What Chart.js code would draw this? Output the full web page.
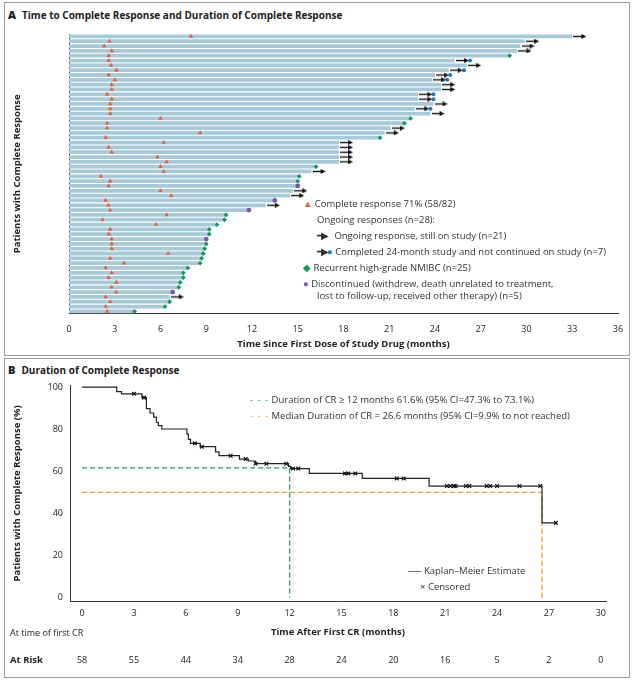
<!DOCTYPE html>
<html>
<head>
<meta charset="utf-8">
<script src="https://cdn.jsdelivr.net/npm/chart.js@4"></script>
<style>
  body { margin: 0; background: #fff; font-family: "Open Sans", sans-serif; color: #222; }
  .panel { position: absolute; left: 4px; width: 624px; border: 1px solid #9a9a9a; }
  .head { position: absolute; left: 8px; font-size: 10px; font-weight: bold; }
  .head b { margin-right: 6px; font-size: 11px; }
  .lg { position: absolute; font-size: 9.5px; color: #333; white-space: nowrap; }
  canvas { position: absolute; }
</style>
</head>
<body>
<div class="panel" style="top:2px;height:352px"></div>
<div class="panel" style="top:358px;height:318px"></div>
<div class="head" style="top:7px"><b>A</b>Time to Complete Response and Duration of Complete Response</div>
<div class="head" style="top:362px"><b>B</b>Duration of Complete Response</div>
<div style="position:absolute;left:4px;top:22px;width:626px;height:332px"><canvas id="chartA"></canvas></div>
<div style="position:absolute;left:4px;top:372px;width:626px;height:304px"><canvas id="chartB"></canvas></div>

<!-- panel A legend -->
<div class="lg" style="left:303px;top:197px"><span style="color:#e0603a">&#9650;</span> Complete response 71% (58/82)</div>
<div class="lg" style="left:317px;top:213px">Ongoing responses (n=28):</div>
<div class="lg" style="left:317px;top:229px"><span style="letter-spacing:-2px">&#9473;&#9654;</span>&nbsp;&nbsp; Ongoing response, still on study (n=21)</div>
<div class="lg" style="left:317px;top:245px"><span style="letter-spacing:-2px">&#9473;&#9654;</span><span style="color:#1f78c8">&#9679;</span> Completed 24-month study and not continued on study (n=7)</div>
<div class="lg" style="left:303px;top:261px"><span style="color:#15975a">&#9670;</span> Recurrent high-grade NMIBC (n=25)</div>
<div class="lg" style="left:303px;top:277px"><span style="color:#7b55b0">&#9679;</span> Discontinued (withdrew, death unrelated to treatment,</div>
<div class="lg" style="left:317px;top:289px">lost to follow-up, received other therapy) (n=5)</div>

<!-- panel B legend -->
<div class="lg" style="left:250px;top:393px"><span style="color:#1e9a6a;letter-spacing:1px">- - -</span> Duration of CR &ge; 12 months 61.6% (95% CI=47.3% to 73.1%)</div>
<div class="lg" style="left:250px;top:409px"><span style="color:#f0a030;letter-spacing:1px">- - -</span> Median Duration of CR = 26.6 months (95% CI=9.9% to not reached)</div>
<div class="lg" style="left:408px;top:564px">&#9472;&#9472; Kaplan&ndash;Meier Estimate</div>
<div class="lg" style="left:420px;top:580px">&times; Censored</div>

<script>
// ---- Panel A data (months), top row first ----
const barEnd = [33.0, 29.9, 29.6, 29.4, 28.9, 25.3, 26.1, 24.9, 24.0, 23.8, 24.4, 24.4, 22.9, 22.9, 23.9,
  22.7, 23.7, 22.4, 22.0, 21.1, 20.7, 20.4, 17.7, 17.7, 17.7, 17.7, 17.7, 16.2, 15.9, 15.1,
  15.0, 15.0, 14.7, 14.5, 13.5, 12.9, 11.8, 10.3, 10.2, 9.7, 9.2, 9.2, 9.0, 9.0, 8.9,
  8.8, 8.7, 8.6, 7.8, 7.5, 7.5, 7.3, 7.2, 6.8, 6.6, 6.6, 6.3, 4.3];
const crTime = [8.0, 2.65, 2.3, 2.8, 2.6, 2.6, 2.75, 3.1, 2.6, 3.0, 2.8, 2.8, 2.5, 2.8, 2.7,
  2.7, 2.7, 6.0, 2.5, 2.5, 8.6, 2.4, 6.2, 2.6, 2.8, 5.8, 6.4, 6.0, 6.2, 2.1,
  2.7, 2.6, 6.0, 6.7, 2.4, 2.6, 2.7, 6.4, 2.2, 5.7, 2.7, 2.6, 2.8, 2.8, 2.8,
  6.5, 2.7, 3.6, 2.4, 2.8, 2.6, 3.1, 2.8, 3.1, 2.4, 2.7, 2.4, 2.5];
// A = ongoing, B = completed 24-month study, G = recurrence, P = discontinued
const outcome = ['A','A','A','A','G','B','A','B','B','B','A','A','B','B','A',
  'B','A','G','G','A','A','G','A','A','A','A','A','G','A','G',
  'G','P','A','A','P','A','P','G','G','G','G','G','P','G','G',
  'G','G','G','G','G','G','G','G','P','A','G','G','G'];
const xTicksA = [0, 3, 6, 9, 12, 15, 18, 21, 24, 27, 30, 33, 36];

// ---- Panel B data ----
const kmTime = [0, 2.0, 2.28, 3.46, 3.72, 3.93, 4.14, 4.30, 4.41, 4.61, 6.06, 6.15, 6.27, 6.83, 7.72,
  7.92, 9.1, 9.62, 10.03, 11.94, 12.06, 13.14, 16.2, 20.07, 26.6, 27.4];
const kmSurv = [100, 97.9, 96.8, 95.0, 89.8, 87.7, 85.7, 83.3, 81.7, 80.1, 77.7, 75.2, 73.3, 71.7, 69.2,
  67.4, 65.8, 64.9, 63.6, 62.3, 61.3, 59.0, 56.6, 53.0, 35.5, 35.5];
const censorTime = [3.0, 3.58, 6.52, 6.93, 8.59, 9.46, 10.03, 10.66, 11.8, 12.2, 12.5, 15.2, 15.4, 15.8,
  18.2, 18.6, 21.1, 21.3, 21.5, 21.6, 22.2, 22.4, 23.4, 23.6, 24.0, 25.3, 26.5, 27.4];
const xTicksB = [0, 3, 6, 9, 12, 15, 18, 21, 24, 27, 30];
const yTicksB = [0, 20, 40, 60, 80, 100];
const atRisk = [58, 55, 44, 34, 28, 24, 20, 16, 5, 2, 0];
const crAt12 = 61.6, medianCR = 26.6;

const FONT = '"Open Sans", sans-serif';
const TXT = '#222';

// arrow marker
const arrow = document.createElement('canvas');
arrow.width = 13; arrow.height = 5;
(function () {
  const c = arrow.getContext('2d');
  c.strokeStyle = '#111'; c.fillStyle = '#111'; c.lineWidth = 1.4;
  c.beginPath(); c.moveTo(0, 2.5); c.lineTo(9, 2.5); c.stroke();
  c.beginPath(); c.moveTo(8, 0); c.lineTo(13, 2.5); c.lineTo(8, 5); c.closePath(); c.fill();
})();

const rows = barEnd.map((_, i) => String(i + 1));
const pick = code => barEnd.map((e, i) => ({ e, i })).filter(r => outcome[r.i] === code);

new Chart(document.getElementById('chartA'), {
  data: {
    labels: rows,
    datasets: [
      { type: 'bar', indexAxis: 'y', data: barEnd, backgroundColor: '#a8c9d7',
        barPercentage: 1, categoryPercentage: 0.78, order: 5 },
      { type: 'scatter', data: crTime.map((t, i) => ({ x: t, y: rows[i] })), pointStyle: 'triangle',
        pointRadius: 2.6, backgroundColor: '#e0603a', borderColor: '#e0603a', borderWidth: 0 },
      { type: 'scatter', data: pick('A').map(r => ({ x: r.e + 0.5, y: rows[r.i] })), pointStyle: arrow },
      { type: 'scatter', data: pick('B').map(r => ({ x: r.e + 0.5, y: rows[r.i] })), pointStyle: arrow },
      { type: 'scatter', data: pick('B').map(r => ({ x: r.e + 1.0, y: rows[r.i] })), pointRadius: 2,
        backgroundColor: '#1f78c8', borderWidth: 0 },
      { type: 'scatter', data: pick('G').map(r => ({ x: r.e, y: rows[r.i] })), pointStyle: 'rectRot',
        pointRadius: 2.4, backgroundColor: '#15975a', borderWidth: 0 },
      { type: 'scatter', data: pick('P').map(r => ({ x: r.e, y: rows[r.i] })), pointRadius: 2.4,
        backgroundColor: '#7b55b0', borderWidth: 0 }
    ]
  },
  options: {
    responsive: true, maintainAspectRatio: false, animation: false,
    layout: { padding: { left: 4, right: 12, top: 12, bottom: 0 } },
    plugins: { legend: { display: false }, tooltip: { enabled: false } },
    scales: {
      x: { type: 'linear', min: 0, max: 36,
        afterBuildTicks: s => { s.ticks = xTicksA.map(v => ({ value: v })); },
        grid: { display: false, drawTicks: true },
        border: { color: '#333' },
        ticks: { color: TXT, font: { family: FONT, size: 9 }, padding: 2 },
        title: { display: true, text: 'Time Since First Dose of Study Drug (months)', color: TXT,
          font: { family: FONT, size: 9.5, weight: 'bold' }, padding: { top: 2 } } },
      y: { type: 'category', offset: true,
        afterFit: s => { s.width = 61; },
        grid: { display: false, tickLength: 3 },
        border: { color: '#333' },
        ticks: { display: true, callback: () => '', autoSkip: false },
        title: { display: true, text: 'Patients with Complete Response', color: TXT,
          font: { family: FONT, size: 9.5, weight: 'bold' } } }
    }
  }
});

// ---- Panel B ----
function survAt(t) {
  let s = 100;
  for (let i = 0; i < kmTime.length; i++) if (kmTime[i] <= t) s = kmSurv[i];
  return s;
}

const atRiskPlugin = {
  id: 'atRisk',
  afterDraw(chart) {
    const c = chart.ctx, xs = chart.scales.x, h = chart.height;
    c.save();
    c.fillStyle = TXT;
    c.font = '9px ' + FONT;
    c.textBaseline = 'middle';
    c.textAlign = 'left';
    c.fillText('At time of first CR', 6, h - 43);
    c.font = 'bold 9.5px ' + FONT;
    c.fillText('At Risk', 6, h - 16);
    c.font = '9px ' + FONT;
    c.textAlign = 'center';
    atRisk.forEach((n, i) => c.fillText(String(n), xs.getPixelForValue(xTicksB[i]), h - 16));
    c.restore();
  }
};

new Chart(document.getElementById('chartB'), {
  type: 'line',
  data: {
    datasets: [
      { data: kmTime.map((t, i) => ({ x: t, y: kmSurv[i] })), stepped: 'before',
        borderColor: '#222', borderWidth: 1.2, pointRadius: 0, order: 1 },
      { type: 'scatter', data: censorTime.map(t => ({ x: t, y: survAt(t) })), pointStyle: 'crossRot',
        pointRadius: 2.6, borderColor: '#111', borderWidth: 1.2, order: 0 },
      { data: [{ x: 0, y: crAt12 }, { x: 12, y: crAt12 }, { x: 12, y: 0 }], borderColor: '#1e9a6a',
        borderDash: [5, 3], borderWidth: 1.3, pointRadius: 0, order: 3 },
      { data: [{ x: 0, y: 50 }, { x: medianCR, y: 50 }, { x: medianCR, y: 0 }], borderColor: '#f0a030',
        borderDash: [5, 3], borderWidth: 1.3, pointRadius: 0, order: 3 }
    ]
  },
  options: {
    responsive: true, maintainAspectRatio: false, animation: false,
    layout: { padding: { left: 4, right: 24, top: 13, bottom: 34 } },
    plugins: { legend: { display: false }, tooltip: { enabled: false } },
    scales: {
      x: { type: 'linear', min: -0.7, max: 30.3,
        afterBuildTicks: s => { s.ticks = xTicksB.map(v => ({ value: v })); },
        grid: { display: false, drawTicks: true, tickLength: 4 },
        border: { color: '#333' },
        ticks: { color: TXT, font: { family: FONT, size: 9 }, padding: 2 },
        title: { display: true, text: 'Time After First CR (months)', color: TXT,
          font: { family: FONT, size: 9.5, weight: 'bold' }, padding: { top: 6 } } },
      y: { type: 'linear', min: -2, max: 101,
        afterBuildTicks: s => { s.ticks = yTicksB.map(v => ({ value: v })); },
        afterFit: s => { s.width = 62; },
        grid: { display: false, tickLength: 4 },
        border: { color: '#333' },
        ticks: { color: TXT, font: { family: FONT, size: 9 }, padding: 3 },
        title: { display: true, text: 'Patients with Complete Response (%)', color: TXT,
          font: { family: FONT, size: 9.5, weight: 'bold' } } }
    }
  },
  plugins: [atRiskPlugin]
});
</script>
</body>
</html>
